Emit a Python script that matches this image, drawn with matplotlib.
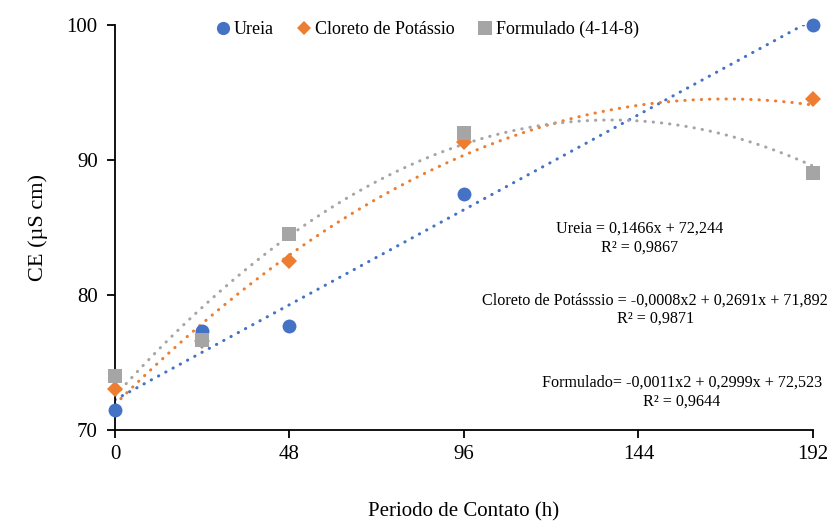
import numpy as np
import matplotlib
matplotlib.use("Agg")
import matplotlib.pyplot as plt

# Dados
periodo = [0, 24, 48, 96, 192]
ureia = [71.5, 77.3, 77.7, 87.5, 100.0]
cloreto = [73.0, 76.6, 82.5, 91.3, 94.5]
formulado = [74.0, 76.7, 84.5, 92.0, 89.0]

# Coeficientes das linhas de tendência (grau decrescente)
coef_ureia = [0.1466, 72.244]
coef_cloreto = [-0.0008, 0.2691, 71.892]
coef_formulado = [-0.0011, 0.2999, 72.523]

nomes = ["Ureia", "Cloreto de Potássio", "Formulado (4-14-8)"]
cores = ["#4472C4", "#ED7D31", "#A5A5A5"]
marcadores = ["o", "D", "s"]
tamanhos = [10, 8, 10.5]

equacoes = [
    "Ureia = 0,1466x + 72,244\nR² = 0,9867",
    "Cloreto de Potásssio = -0,0008x2 + 0,2691x + 71,892\nR² = 0,9871",
    "Formulado= -0,0011x2 + 0,2999x + 72,523\nR² = 0,9644",
]
pos_equacoes = [(144.4, 84.2), (148.6, 78.9), (156.0, 72.8)]

plt.rcParams["font.family"] = ["Liberation Serif", "DejaVu Serif"]

fig = plt.figure(figsize=(8.31, 5.21), dpi=100)
ax = fig.add_axes([0.1384, 0.1747, 0.8399, 0.7773])

xs = np.linspace(0, 192, 300)
series = [ureia, cloreto, formulado]
coefs = [coef_ureia, coef_cloreto, coef_formulado]

for valores, coef, nome, cor, mk, ms in zip(series, coefs, nomes, cores, marcadores, tamanhos):
    ax.plot(periodo, valores, linestyle="none", marker=mk, markersize=ms,
            color=cor, markeredgewidth=0, label=nome, zorder=3, clip_on=False)

for coef, cor in zip(coefs, cores):
    ax.plot(xs, np.polyval(coef, xs), color=cor, linewidth=2.2,
            linestyle=(0, (0.1, 2.6)), dash_capstyle="round", zorder=2)

for txt, (tx, ty) in zip(equacoes, pos_equacoes):
    ax.text(tx, ty, txt, ha="center", va="center", fontsize=11.6, linespacing=1.2)

ax.set_xlim(0, 192)
ax.set_ylim(70, 100)
ax.set_xticks([0, 48, 96, 144, 192])
ax.set_yticks([70, 80, 90, 100])
ax.tick_params(axis="both", direction="out", length=6, width=1.3, labelsize=15)
ax.tick_params(axis="x", pad=5)
ax.tick_params(axis="y", pad=6.5)

for lado in ["top", "right"]:
    ax.spines[lado].set_visible(False)
for lado in ["left", "bottom"]:
    ax.spines[lado].set_linewidth(1.3)

ax.set_xlabel("Periodo de Contato (h)", fontsize=15, labelpad=27)
ax.set_ylabel("CE (µS cm)", fontsize=16, labelpad=13)

ax.legend(loc="upper center", bbox_to_anchor=(0.445, 1.05), ncol=3, frameon=False,
          fontsize=13, handletextpad=0.0, columnspacing=1.1, handlelength=1.2,
          markerscale=0.95)

fig.savefig("out.png", dpi=100)
